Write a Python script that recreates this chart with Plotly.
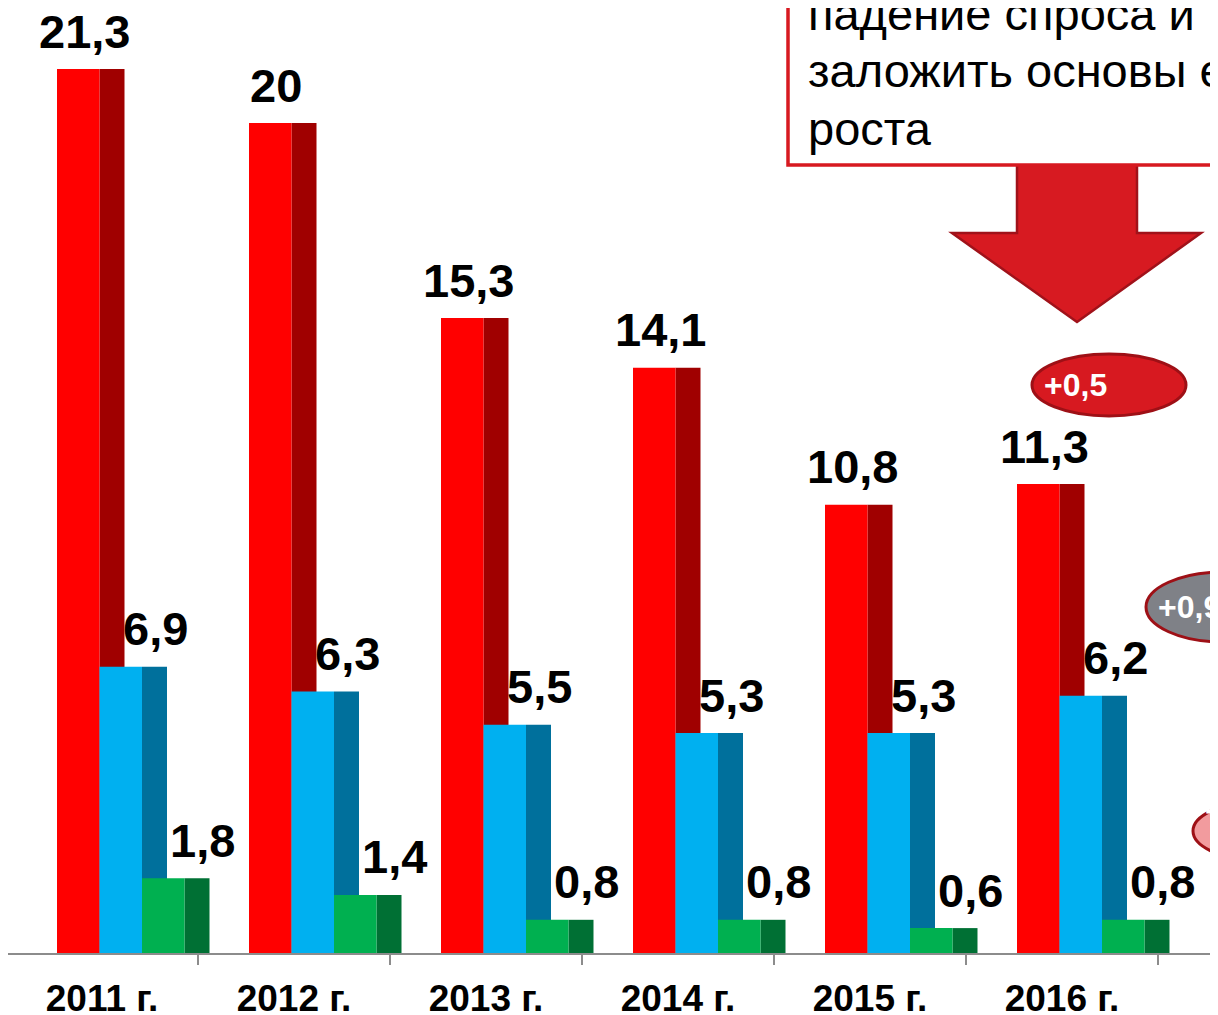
import plotly.graph_objects as go

# ---- data ----
years = ["2011 г.", "2012 г.", "2013 г.", "2014 г.", "2015 г.", "2016 г."]
red_vals = [21.3, 20, 15.3, 14.1, 10.8, 11.3]
blue_vals = [6.9, 6.3, 5.5, 5.3, 5.3, 6.2]
green_vals = [1.8, 1.4, 0.8, 0.8, 0.6, 0.8]
note_lines = ["падение спроса и", "заложить основы ее", "роста"]

# ---- geometry helpers (all pixel numbers below are in page coordinates) ----
PAGE_OFF = 8                     # default body margin of the html page
W, H = 1218 - PAGE_OFF, 1015 - PAGE_OFF
BASE_Y = 953                     # page y of the category axis
ML, MR, MT = 0, 0, 0
MB = 1015 - BASE_Y
PW, PH = W - ML - MR, H - MT - MB
CAT_PX = 192.0                   # pixels per category
Y_PX = 41.5                      # pixels per unit
X_LEFT = -0.5 + (PAGE_OFF - 6) / CAT_PX


def px(x):
    return (x - PAGE_OFF - ML) / PW


def py(y):
    return (BASE_Y - y) / PH


def u(p):  # pixels -> x data units
    return p / CAT_PX


def fmt(v):
    return f"{v:g}".replace(".", ",")


FONT = "Arial, 'Liberation Sans', sans-serif"
xs = list(range(len(years)))

series = [
    # values, front colour, side colour, front offset px, label offset px
    (red_vals, "#FF0000", "#A00000", -45, -18),
    (blue_vals, "#00B0F0", "#00709C", -2.5, 53),
    (green_vals, "#00B050", "#007034", 40, 100),
]
FRONT_W, SIDE_W = 42.5, 25

fig = go.Figure()
annos = []
for vals, cf, cs, off, loff in series:
    fig.add_trace(go.Bar(x=xs, y=vals, width=u(SIDE_W), offset=u(off + FRONT_W),
                         marker=dict(color=cs, line=dict(width=0)), hoverinfo="skip"))
    fig.add_trace(go.Bar(x=xs, y=vals, width=u(FRONT_W), offset=u(off),
                         marker=dict(color=cf, line=dict(width=0)), hoverinfo="skip"))
    for x, v in zip(xs, vals):
        annos.append(dict(x=x + u(loff), y=v, xref="x", yref="y", text=fmt(v),
                          showarrow=False, yanchor="middle", yshift=38,
                          font=dict(family=FONT, size=47, color="black", weight="bold")))

# ---- decorations ----
shapes = []
# arrow
arrow = [(1017, 160), (1137, 160), (1137, 233), (1201, 233), (1077, 322), (952, 233), (1017, 233)]
path = "M " + " L ".join(f"{px(a)},{py(b)}" for a, b in arrow) + " Z"
shapes.append(dict(type="path", xref="paper", yref="paper", path=path,
                   fillcolor="#D71A21", line=dict(color="#A0121A", width=2.5)))
# note box
shapes.append(dict(type="rect", xref="paper", yref="paper",
                   x0=px(788), x1=px(1260), y0=py(165), y1=py(-20),
                   fillcolor="white", line=dict(color="#D71920", width=3.5)))
for i, line in enumerate(note_lines):
    annos.append(dict(xref="paper", yref="paper", x=px(806), y=py(14 + 57 * i),
                      xanchor="left", yanchor="middle", align="left", showarrow=False,
                      text=line, font=dict(family=FONT, size=47, color="black")))

# difference ellipses
ellipses = [
    (red_vals, 1032, 1186, 354, 416, "#D71920"),
    (blue_vals, 1146, 1300, 572, 642, "#7F8187"),
    (green_vals, 1193, 1347, 800, 862, "#F29B9E"),
]
for vals, x0, x1, y0, y1, col in ellipses:
    shapes.append(dict(type="circle", xref="paper", yref="paper",
                       x0=px(x0), x1=px(x1), y0=py(y1), y1=py(y0),
                       fillcolor=col, line=dict(color="#9E1016", width=3)))
    d = round(vals[-1] - vals[-2], 1)
    annos.append(dict(xref="paper", yref="paper", x=px((x0 + x1) / 2), y=py((y0 + y1) / 2),
                      text=("+" if d >= 0 else "") + fmt(d), showarrow=False,
                      font=dict(family=FONT, size=32, color="white", weight="bold")))

fig.update_layout(
    width=W, height=H,
    margin=dict(l=ML, r=MR, t=MT, b=MB, autoexpand=False),
    paper_bgcolor="white", plot_bgcolor="white",
    barmode="overlay", showlegend=False,
    shapes=shapes, annotations=annos,
    xaxis=dict(range=[X_LEFT, X_LEFT + PW / CAT_PX], tickmode="array", tickvals=xs,
               ticktext=years, ticks="", showgrid=False, zeroline=False,
               showline=True, linecolor="#8C8C8C", linewidth=2, automargin=False,
               ticklabelstandoff=12,
               tickfont=dict(family=FONT, size=37, color="black", weight="bold"),
               minor=dict(tickmode="linear", tick0=-0.5, dtick=1, ticks="outside",
                          ticklen=10, tickwidth=2, tickcolor="#8C8C8C", showgrid=False)),
    yaxis=dict(range=[0, PH / Y_PX], visible=False, automargin=False),
)

fig.write_html("out.html")
